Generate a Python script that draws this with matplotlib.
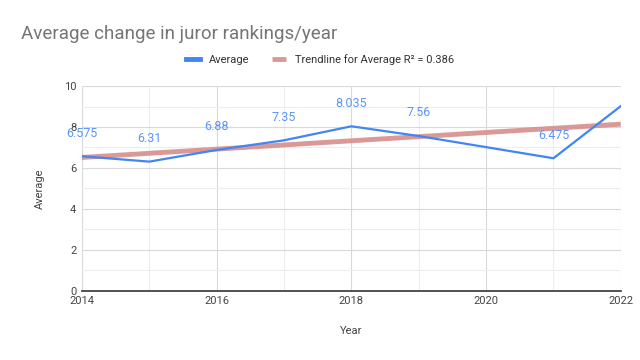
import numpy as np
import matplotlib
matplotlib.use("Agg")
import matplotlib.pyplot as plt
from matplotlib.ticker import MultipleLocator

plt.rcParams['font.family'] = ['Roboto', 'DejaVu Sans']

years = [2014, 2015, 2016, 2017, 2018, 2019, 2021, 2022]
averages = [6.575, 6.31, 6.88, 7.35, 8.035, 7.56, 6.475, 9.02]
point_labels = ["6.575", "6.31", "6.88", "7.35", "8.035", "7.56", "6.475", ""]
r2_text = "0.386"

fig = plt.figure(figsize=(6.4, 3.6), dpi=100)
ax = fig.add_axes([0.128, 0.192, 0.842, 0.569])

blue = "#4285F4"
trend_c = "#d68e8c"

x = np.array(years, dtype=float)
y = np.array(averages)
coef = np.polyfit(x, y, 1)
xt = np.array([2014, 2022], dtype=float)
ax.plot(xt, np.polyval(coef, xt), color=trend_c, lw=3.5, alpha=0.9, solid_capstyle='butt',
        label=f"Trendline for Average R\u00b2 = {r2_text}", zorder=2)
ax.plot(x, y, color=blue, lw=1.6, label="Average", zorder=3)

for xi, yi, lab in zip(x, y, point_labels):
    if lab:
        ax.annotate(lab, (xi, yi), xytext=(0, 12), textcoords='offset points',
                    ha='center', va='bottom', color="#5b95f9", fontsize=9, zorder=4)

ax.set_xlim(2014, 2022)
ax.set_ylim(0, 10)
ax.xaxis.set_major_locator(MultipleLocator(2))
ax.xaxis.set_minor_locator(MultipleLocator(1))
ax.yaxis.set_major_locator(MultipleLocator(2))
ax.yaxis.set_minor_locator(MultipleLocator(1))
ax.grid(which='major', color='#d9d9d9', lw=0.8)
ax.grid(which='minor', color='#ededed', lw=0.8)
ax.set_axisbelow(True)
for s in ['top', 'right', 'left']:
    ax.spines[s].set_visible(False)
ax.spines['bottom'].set_color('#333333')
ax.spines['bottom'].set_linewidth(1.2)
ax.tick_params(which='both', length=0, labelsize=8, colors='#444444', pad=4)
ax.set_xlabel("Year", fontsize=8, color='#444444', labelpad=14)
ax.set_ylabel("Average", fontsize=8, color='#444444', labelpad=14)

fig.text(0.033, 0.905, "Average change in juror rankings/year", fontsize=13.5, color='#757575',
         ha='left', va='center')

h, l = ax.get_legend_handles_labels()
leg = fig.legend(h[::-1], l[::-1], loc='center', bbox_to_anchor=(0.5, 0.835), ncol=2, frameon=False,
                 fontsize=8, handlelength=1.3, columnspacing=2.0, handletextpad=0.8)
for line in leg.get_lines():
    line.set_linewidth(3.5)
for t in leg.get_texts():
    t.set_color('#333333')

fig.savefig("out.png", dpi=100)
